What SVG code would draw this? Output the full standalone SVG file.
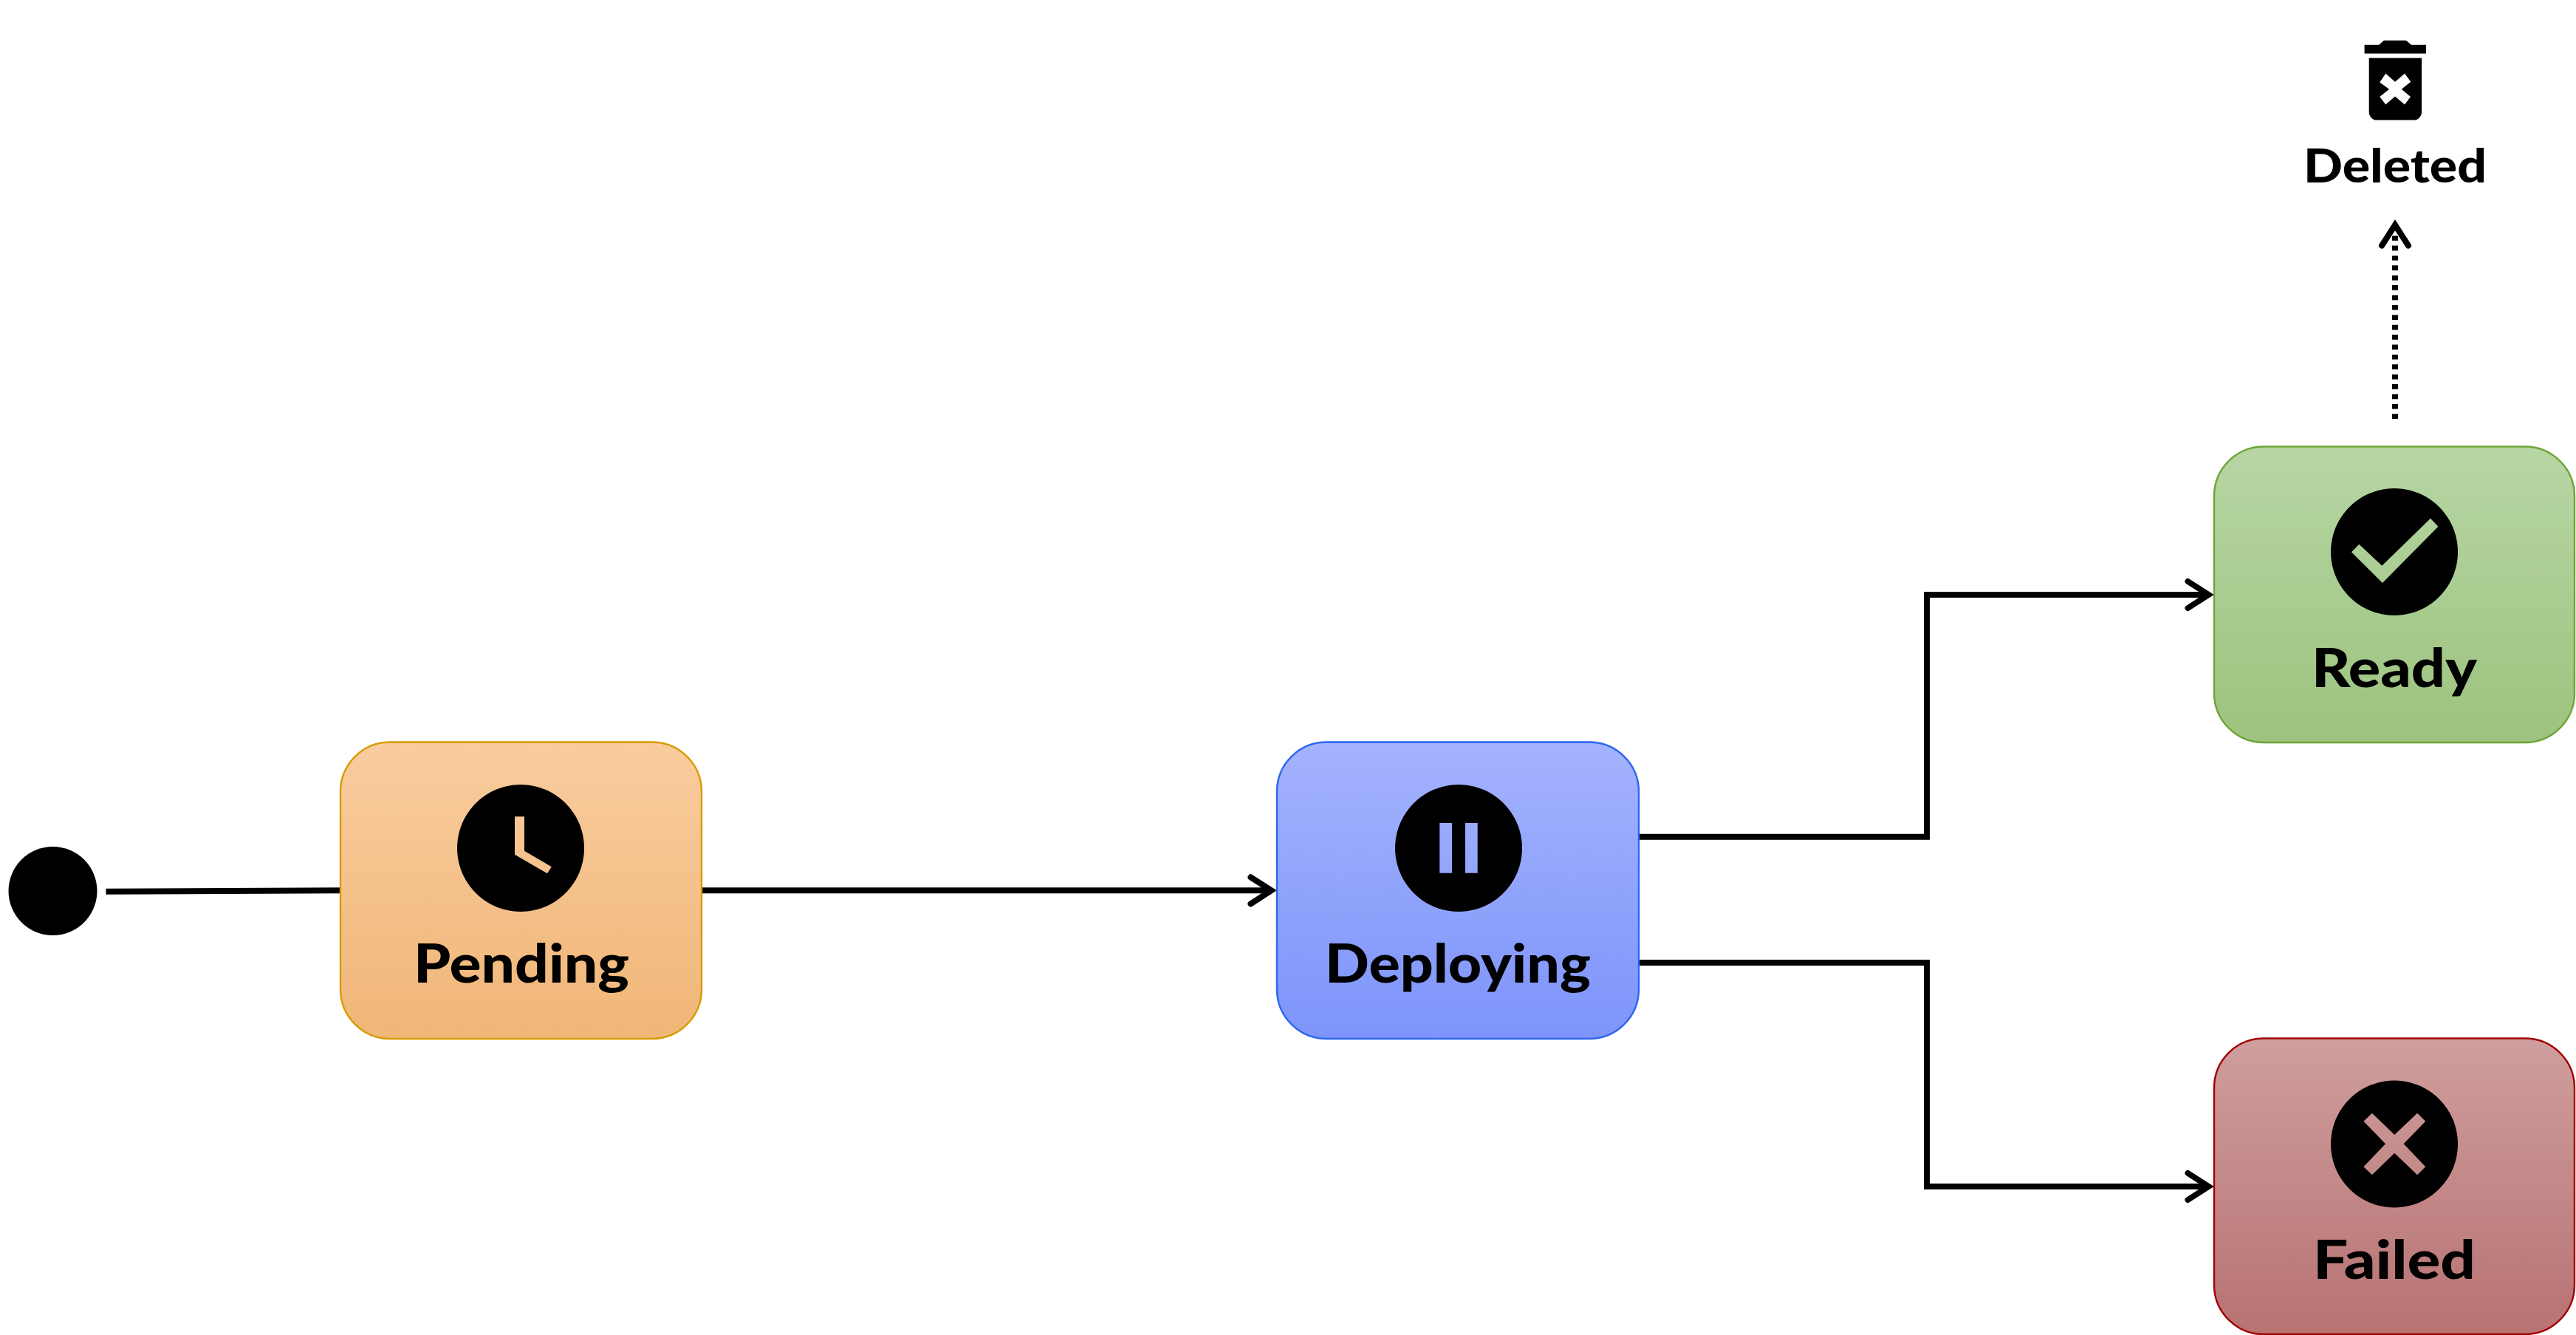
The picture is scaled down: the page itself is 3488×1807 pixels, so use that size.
<svg xmlns="http://www.w3.org/2000/svg" width="3488" height="1807" viewBox="0 0 3488 1807">
  <style>
    .box { stroke-width: 2.4; }
    .lbl { font-family: "Lato", "Liberation Sans", sans-serif; font-weight: 900; font-size: 73px; fill: #000; text-anchor: start; }
    .icon { fill: #000; fill-rule: evenodd; }
    .edge { fill: none; stroke: #000; stroke-width: 8; }
    .dot { stroke-dasharray: 6.7 6.7; }
    .head { fill: none; stroke: #000; stroke-width: 8; stroke-linecap: round; stroke-linejoin: miter; }
  </style>
  <defs>
    <linearGradient id="gPending" x1="0" y1="0" x2="0" y2="1"><stop offset="0" stop-color="#f9cc9e"/><stop offset="1" stop-color="#f0b677"/></linearGradient>
    <linearGradient id="gDeploying" x1="0" y1="0" x2="0" y2="1"><stop offset="0" stop-color="#a4b3fd"/><stop offset="1" stop-color="#7d94fa"/></linearGradient>
    <linearGradient id="gReady" x1="0" y1="0" x2="0" y2="1"><stop offset="0" stop-color="#b6d6a4"/><stop offset="1" stop-color="#9dc37e"/></linearGradient>
    <linearGradient id="gFailed" x1="0" y1="0" x2="0" y2="1"><stop offset="0" stop-color="#cf9e9e"/><stop offset="1" stop-color="#b87272"/></linearGradient>
    <marker id="open" markerUnits="userSpaceOnUse" markerWidth="60" markerHeight="60" refX="31" refY="30" orient="auto" overflow="visible">
      <polyline class="head" points="3,12 31,30 3,48"/>
    </marker>
  </defs>

  <g id="connectors">
    <path class="edge" d="M143.5 1206.7 L461 1205.3"/>
    <path class="edge" d="M950 1205.3 L1721.5 1205.3" marker-end="url(#open)"/>
    <path class="edge" d="M2219 1132.7 H2609 V805 H2990.5" marker-end="url(#open)"/>
    <path class="edge" d="M2219 1303 H2609 V1606 H2990.5" marker-end="url(#open)"/>
    <path class="edge dot" d="M3243 567 V304.5" marker-end="url(#open)"/>
  </g>

  <g id="start"><circle cx="71.5" cy="1206" r="60" fill="#000"/></g>

  <g id="pending">
    <rect class="box" x="461" y="1004.5" width="489" height="401.5" rx="67" ry="67" fill="url(#gPending)" stroke="#d79b00"/>
    <path class="icon" d="M705 1062a86 86 0 1 0 0.01 0Z M697 1105.3H710V1151.7L746.8 1173.3L741 1182.3L697 1156.7Z"/>
    <text class="lbl" x="560" y="1330" textLength="292" lengthAdjust="spacingAndGlyphs">Pending</text>
  </g>

  <g id="deploying">
    <rect class="box" x="1729" y="1004.5" width="490" height="401.5" rx="67" ry="67" fill="url(#gDeploying)" stroke="#2c66f0"/>
    <path class="icon" d="M1975 1062a86 86 0 1 0 0.01 0Z M1949.3 1114H1966V1181.7H1949.3Z M1984 1114H2000.7V1181.7H1984Z"/>
    <text class="lbl" x="1794" y="1330" textLength="360" lengthAdjust="spacingAndGlyphs">Deploying</text>
  </g>

  <g id="ready">
    <rect class="box" x="2998" y="604.5" width="488" height="400.5" rx="67" ry="67" fill="url(#gReady)" stroke="#6da536"/>
    <path class="icon" d="M3242 661a86 86 0 1 0 0.01 0Z M3291 701.7L3301.4 712.7L3226 789L3184 747.3L3194.3 736.7L3225.3 765.7Z"/>
    <text class="lbl" x="3130" y="930" textLength="224" lengthAdjust="spacingAndGlyphs">Ready</text>
  </g>

  <g id="failed">
    <rect class="box" x="2998" y="1405.5" width="488" height="400.5" rx="67" ry="67" fill="url(#gFailed)" stroke="#a20000"/>
    <path class="icon" d="M3242 1462.5a86 86 0 1 0 0.01 0Z M3200.4 1517.7L3211.9 1506.7L3242.2 1536L3273.1 1506.7L3284.2 1517.7L3254.6 1548.3L3284.2 1579.3L3273.1 1590.3L3242.2 1560.7L3211.9 1590.3L3200.4 1579.3L3230 1548.3Z"/>
    <text class="lbl" x="3132" y="1730.5" textLength="220" lengthAdjust="spacingAndGlyphs">Failed</text>
  </g>

  <g id="deleted">
    <path class="icon" d="M3201.6 60.7H3221L3228 54.8H3258L3265 60.7H3285V72.6H3201.6Z"/>
    <path class="icon" d="M3207.7 78.5H3279V151.6a11 11 0 0 1 -11 11H3218.7a11 11 0 0 1 -11 -11Z M3222.3 111.5L3230.3 99.6L3243 110.7L3256 99.6L3264.3 110.7L3251.7 120.7L3264 131L3256 141.5L3243 130.4L3230.3 141.5L3222.3 131L3235 120.7Z"/>
    <text class="lbl" x="3119" y="247" style="font-size:62px" textLength="248" lengthAdjust="spacingAndGlyphs">Deleted</text>
  </g>
</svg>
